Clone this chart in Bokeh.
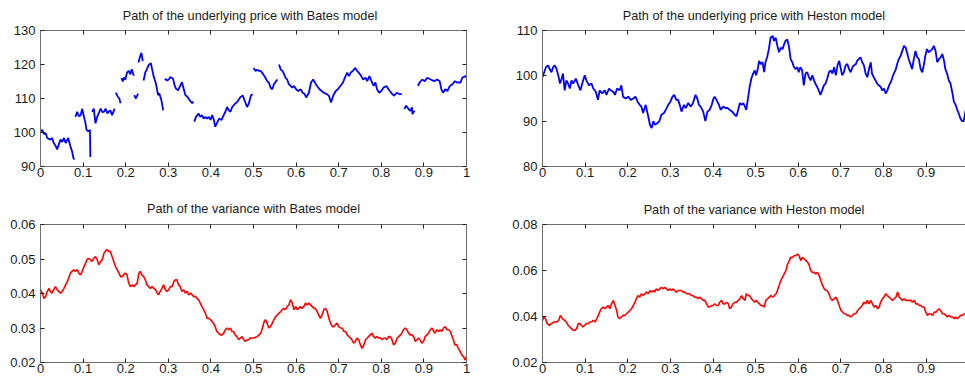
from bokeh.plotting import figure
from bokeh.models import Range1d, LinearAxis, FixedTicker
from bokeh.layouts import column, row
from bokeh.embed import file_html
from bokeh.resources import INLINE

NAN = float("nan")

# ---------------- tick labels ----------------
x_ticks = [0, 0.1, 0.2, 0.3, 0.4, 0.5, 0.6, 0.7, 0.8, 0.9, 1.0]
x_tick_labels = ["0", "0.1", "0.2", "0.3", "0.4", "0.5", "0.6", "0.7", "0.8", "0.9", "1"]
bates_price_ticks = [90, 100, 110, 120, 130]
bates_price_labels = ["90", "100", "110", "120", "130"]
heston_price_ticks = [80, 90, 100, 110]
heston_price_labels = ["80", "90", "100", "110"]
bates_var_ticks = [0.02, 0.03, 0.04, 0.05, 0.06]
bates_var_labels = ["0.02", "0.03", "0.04", "0.05", "0.06"]
heston_var_ticks = [0.02, 0.04, 0.06, 0.08]
heston_var_labels = ["0.02", "0.04", "0.06", "0.08"]

titles = [
    "Path of the underlying price   with Bates model",
    "Path of the underlying price with Heston model",
    "Path of the variance with Bates model",
    "Path of the variance with Heston model",
]

# ---------------- Bates price (pieces between jumps) ----------------
bates_price_t = [
    [0.000, 0.004, 0.008, 0.012, 0.016, 0.023, 0.027, 0.031, 0.035, 0.039, 0.043, 0.047, 0.051, 0.055, 0.059, 0.065, 0.070, 0.074, 0.077, 0.079],
    [0.082, 0.086, 0.090, 0.094, 0.098, 0.102, 0.105, 0.108, 0.112, 0.116, 0.117],
    [0.121, 0.125, 0.129, 0.133, 0.137, 0.141, 0.145, 0.149, 0.153, 0.157, 0.160, 0.164, 0.168, 0.174],
    [0.177, 0.181, 0.185, 0.188],
    [0.190, 0.193, 0.196, 0.199, 0.203, 0.207, 0.211, 0.214, 0.219],
    [0.220, 0.224, 0.229],
    [0.230, 0.234, 0.237, 0.240],
    [0.242, 0.246, 0.250, 0.254, 0.259, 0.262, 0.266, 0.271, 0.276, 0.279, 0.284, 0.288],
    [0.292, 0.297, 0.301, 0.305, 0.311, 0.315, 0.318, 0.323, 0.328, 0.332, 0.337, 0.340, 0.345, 0.350, 0.356, 0.359],
    [0.361, 0.365, 0.371, 0.375, 0.379, 0.383, 0.387, 0.391, 0.395, 0.399, 0.403, 0.407, 0.410, 0.414, 0.419, 0.425,
     0.430, 0.434, 0.438, 0.442, 0.446, 0.450, 0.457, 0.461, 0.465, 0.469, 0.475, 0.479, 0.485, 0.489, 0.494, 0.498],
    [0.500, 0.505, 0.509, 0.513, 0.517, 0.523, 0.528, 0.532, 0.536, 0.540, 0.544, 0.548, 0.553, 0.556],
    [0.560, 0.564, 0.568, 0.572, 0.575, 0.579, 0.583, 0.587, 0.591, 0.595, 0.600, 0.605, 0.611, 0.615, 0.620, 0.624,
     0.630, 0.635, 0.640, 0.644, 0.649, 0.655, 0.660, 0.665, 0.672, 0.677, 0.682, 0.687, 0.693, 0.698, 0.704, 0.710,
     0.716, 0.720, 0.724, 0.728, 0.733, 0.739, 0.743, 0.747, 0.753, 0.757, 0.763, 0.767, 0.772, 0.777, 0.782, 0.786,
     0.790, 0.795, 0.800, 0.805, 0.812, 0.817, 0.820, 0.826, 0.830, 0.836, 0.842, 0.848],
    [0.854, 0.858, 0.864, 0.868, 0.872, 0.873, 0.878],
    [0.886, 0.890, 0.896, 0.902, 0.908, 0.916, 0.924, 0.931, 0.937, 0.941, 0.945, 0.950, 0.955, 0.961, 0.967, 0.973,
     0.978, 0.986, 0.990, 0.997, 1.000],
]
bates_price_v = [
    [100.3, 100.8, 99.6, 99.8, 98.4, 97.9, 98.4, 96.9, 96.2, 95.0, 96.5, 97.9, 97.2, 98.4, 96.9, 98.4, 96.0, 94.5, 92.6, 92.0],
    [104.6, 106.1, 104.8, 105.0, 107.0, 104.6, 103.2, 100.8, 100.3, 100.8, 92.8],
    [106.1, 107.0, 102.7, 104.6, 105.8, 107.0, 106.0, 106.1, 107.0, 105.6, 106.1, 106.5, 105.1, 107.0],
    [111.7, 110.6, 110.0, 108.6],
    [116.0, 115.0, 116.2, 115.5, 117.6, 118.1, 117.1, 118.6, 116.7],
    [111.0, 110.0, 111.4],
    [120.6, 122.5, 123.4, 121.0],
    [115.3, 117.7, 118.7, 119.9, 120.4, 118.6, 116.3, 114.4, 111.0, 111.5, 109.4, 106.5],
    [115.8, 115.3, 115.6, 116.3, 115.8, 113.8, 112.9, 112.4, 113.8, 114.8, 112.4, 111.0, 110.5, 109.5, 108.6, 109.1],
    [103.2, 104.6, 105.6, 104.6, 105.1, 104.1, 104.6, 104.1, 104.6, 103.7, 105.1, 103.7, 101.7, 102.7, 104.1, 103.7,
     105.1, 106.1, 107.5, 106.5, 106.1, 107.5, 108.5, 108.9, 109.6, 110.4, 110.9, 109.4, 107.5, 108.5, 110.9, 111.3],
    [119.0, 118.1, 118.5, 118.1, 118.1, 117.1, 116.1, 115.1, 114.7, 113.2, 112.7, 114.2, 115.1, 115.6],
    [120.0, 118.5, 118.1, 117.1, 116.1, 115.6, 114.2, 113.7, 113.2, 113.7, 112.7, 112.2, 112.7, 111.7, 111.3, 110.3,
     111.7, 114.7, 115.6, 114.7, 113.7, 112.7, 112.2, 111.7, 111.3, 110.8, 108.8, 110.8, 112.2, 112.7, 113.7, 114.7,
     116.6, 117.6, 116.6, 117.6, 118.1, 119.0, 118.1, 117.6, 116.6, 115.6, 116.1, 115.1, 116.6, 115.1, 113.7, 114.7,
     112.7, 111.7, 112.2, 113.2, 113.7, 112.7, 112.2, 111.3, 110.8, 111.7, 111.3, 111.3],
    [106.9, 107.9, 106.9, 106.4, 107.4, 105.4, 106.4],
    [113.7, 114.7, 115.6, 115.1, 116.1, 115.6, 115.1, 115.6, 115.1, 112.7, 111.7, 112.7, 112.2, 113.7, 114.2, 115.1,
     114.7, 114.7, 116.1, 116.6, 116.1],
]

# ---------------- Heston price ----------------
heston_price_t = [
    0.000, 0.003, 0.008, 0.013, 0.017, 0.021, 0.025, 0.029, 0.033, 0.037, 0.041, 0.045, 0.048, 0.052, 0.056, 0.060,
    0.064, 0.068, 0.072, 0.078, 0.084, 0.089, 0.094, 0.099, 0.103, 0.109, 0.115, 0.119, 0.125, 0.130, 0.134, 0.140,
    0.146, 0.150, 0.156, 0.160, 0.166, 0.170, 0.175, 0.181, 0.185, 0.189, 0.195, 0.201, 0.207, 0.213, 0.218, 0.223,
    0.228, 0.232, 0.236, 0.242, 0.248, 0.252, 0.256, 0.260, 0.264, 0.270, 0.274, 0.279, 0.285, 0.289, 0.295, 0.300,
    0.305, 0.309, 0.314, 0.318, 0.322, 0.326, 0.332, 0.336, 0.342, 0.348, 0.353, 0.359, 0.363, 0.367, 0.371, 0.377,
    0.382, 0.387, 0.392, 0.397, 0.401, 0.404, 0.408, 0.414, 0.418, 0.424, 0.429, 0.434, 0.439, 0.445, 0.451, 0.455,
    0.459, 0.463, 0.467, 0.471, 0.475, 0.478, 0.482, 0.486, 0.490, 0.494, 0.498,
    0.501, 0.505, 0.508, 0.512, 0.516, 0.520, 0.523, 0.527, 0.531, 0.535, 0.540, 0.543, 0.547, 0.551, 0.555, 0.559,
    0.563, 0.567, 0.570, 0.574, 0.578, 0.582, 0.586, 0.590, 0.594, 0.598, 0.601, 0.605, 0.609, 0.613, 0.617, 0.621,
    0.625, 0.629, 0.633, 0.637, 0.640, 0.644, 0.648, 0.652, 0.656, 0.660, 0.664, 0.668, 0.672, 0.676, 0.680, 0.684,
    0.688, 0.692, 0.696, 0.699, 0.703, 0.707, 0.711, 0.715, 0.719, 0.723, 0.727, 0.731, 0.735, 0.738, 0.742, 0.746,
    0.750, 0.754, 0.758, 0.762, 0.766, 0.770, 0.773, 0.777, 0.781, 0.785, 0.789, 0.793, 0.797, 0.801, 0.805, 0.809,
    0.813, 0.817, 0.820, 0.824, 0.828, 0.832, 0.836, 0.840, 0.844, 0.848, 0.852, 0.856, 0.859, 0.863, 0.867, 0.871,
    0.875, 0.879, 0.883, 0.887, 0.891, 0.895, 0.898, 0.902, 0.906, 0.910, 0.914, 0.918, 0.922, 0.926, 0.930, 0.934,
    0.938, 0.942, 0.945, 0.949, 0.953, 0.957, 0.961, 0.965, 0.969, 0.973, 0.976, 0.980, 0.984, 0.988, 0.992, 0.996,
]
heston_price_v = [
    99.7, 100.5, 101.9, 102.3, 101.5, 100.8, 101.9, 102.3, 101.5, 100.1, 98.3, 99.4, 100.5, 96.8, 99.0, 98.3,
    97.2, 99.0, 98.3, 99.4, 97.9, 96.8, 98.6, 100.1, 99.0, 97.9, 98.3, 97.2, 96.5, 94.7, 96.8, 96.1,
    96.8, 95.8, 97.2, 96.8, 96.5, 95.8, 97.2, 96.8, 97.9, 95.4, 95.0, 95.4, 94.7, 95.0, 95.4, 94.3,
    93.6, 93.2, 91.8, 93.6, 91.1, 89.2, 88.5, 90.0, 89.2, 89.6, 90.0, 91.4, 91.8, 92.5, 93.6, 94.3,
    95.4, 95.8, 94.7, 94.7, 93.6, 92.1, 93.6, 92.9, 94.0, 93.2, 94.0, 95.8, 95.0, 93.6, 93.2, 92.1,
    90.0, 92.1, 92.5, 93.6, 95.0, 95.4, 94.7, 93.6, 92.5, 93.2, 92.9, 92.9, 92.5, 92.1, 91.4, 91.1,
    92.5, 94.0, 93.6, 94.0, 93.2, 92.5, 95.0, 97.6, 99.4, 100.5, 101.2,
    100.1, 101.5, 103.3, 102.6, 103.0, 100.8, 103.0, 104.1, 105.9, 108.4, 108.8, 107.7, 108.4, 106.6, 105.2, 106.2,
    105.9, 107.0, 107.7, 108.0, 106.6, 103.7, 103.0, 101.9, 101.5, 101.9, 100.8, 101.9, 101.2, 97.9, 100.5, 100.8,
    99.7, 99.0, 100.1, 99.0, 98.3, 97.6, 96.8, 95.8, 96.8, 97.9, 98.3, 99.4, 100.8, 101.2, 100.5, 101.9,
    100.1, 102.3, 103.3, 101.9, 100.1, 100.8, 102.3, 102.6, 101.5, 100.8, 101.9, 102.3, 102.6, 103.3, 103.7, 104.1,
    103.0, 102.3, 100.5, 99.7, 101.5, 103.0, 100.5, 99.7, 99.0, 98.3, 97.9, 97.6, 96.8, 97.2, 96.1, 96.8,
    97.9, 98.6, 99.4, 100.5, 101.2, 102.6, 103.7, 104.4, 105.5, 106.6, 106.2, 104.8, 103.7, 102.6, 101.5, 103.7,
    105.5, 104.1, 103.7, 101.5, 100.8, 102.6, 104.4, 105.9, 105.2, 105.5, 105.9, 106.6, 105.5, 103.0, 103.7, 104.1,
    104.8, 103.3, 101.5, 100.5, 99.0, 98.3, 96.5, 94.3, 93.6, 92.5, 91.8, 90.7, 90.0, 90.0, 92.1, 93.2,
]

# ---------------- Bates variance ----------------
bates_var_t = [
    0.000, 0.004, 0.008, 0.012, 0.016, 0.020, 0.023, 0.027, 0.031, 0.035, 0.039, 0.043, 0.047, 0.051, 0.055, 0.059,
    0.063, 0.066, 0.070, 0.074, 0.078, 0.082, 0.086, 0.090, 0.094, 0.098, 0.102, 0.106, 0.109, 0.113, 0.117, 0.121,
    0.125, 0.129, 0.133, 0.137, 0.141, 0.145, 0.149, 0.152, 0.156, 0.160, 0.164, 0.168, 0.172, 0.176, 0.180, 0.184,
    0.188, 0.192, 0.195, 0.199, 0.203, 0.207, 0.211, 0.215, 0.219, 0.223, 0.227, 0.231, 0.234, 0.238, 0.242, 0.246,
    0.250, 0.254, 0.258, 0.262, 0.266, 0.270, 0.274, 0.277, 0.281, 0.285, 0.289, 0.293, 0.297, 0.301, 0.305, 0.309,
    0.313, 0.317, 0.320, 0.324, 0.328, 0.332, 0.336, 0.340, 0.344, 0.348, 0.352, 0.356, 0.360, 0.364, 0.367, 0.371,
    0.375, 0.379, 0.383, 0.387, 0.391, 0.395, 0.399, 0.403, 0.406, 0.410, 0.414, 0.418, 0.422, 0.426, 0.430, 0.434,
    0.438, 0.442, 0.446, 0.449, 0.453, 0.457, 0.461, 0.465, 0.469, 0.473, 0.477, 0.481, 0.485, 0.489, 0.492, 0.496,
    0.501, 0.505, 0.509, 0.513, 0.517, 0.521, 0.525, 0.528, 0.532, 0.536, 0.540, 0.544, 0.548, 0.552, 0.556, 0.560,
    0.564, 0.567, 0.571, 0.575, 0.579, 0.583, 0.587, 0.591, 0.595, 0.599, 0.603, 0.606, 0.610, 0.614, 0.618, 0.622,
    0.626, 0.630, 0.634, 0.638, 0.642, 0.645, 0.649, 0.653, 0.657, 0.661, 0.665, 0.669, 0.673, 0.677, 0.681, 0.685,
    0.689, 0.692, 0.696, 0.700, 0.704, 0.708, 0.712, 0.716, 0.720, 0.724, 0.728, 0.731, 0.735, 0.739, 0.743, 0.747,
    0.751, 0.755, 0.759, 0.763, 0.767, 0.770, 0.774, 0.778, 0.782, 0.786, 0.790, 0.794, 0.798, 0.802, 0.806, 0.809,
    0.813, 0.817, 0.821, 0.825, 0.829, 0.833, 0.837, 0.841, 0.845, 0.848, 0.852, 0.856, 0.860, 0.864, 0.868, 0.872,
    0.876, 0.880, 0.884, 0.887, 0.891, 0.895, 0.899, 0.903, 0.907, 0.911, 0.915, 0.919, 0.923, 0.926, 0.930, 0.934,
    0.938, 0.942, 0.946, 0.950, 0.954, 0.958, 0.962, 0.965, 0.969, 0.973, 0.977, 0.981, 0.985, 0.989, 0.993, 0.997,
    1.000,
]
bates_var_v = [
    0.0411, 0.0401, 0.0386, 0.0391, 0.0406, 0.0415, 0.0406, 0.0401, 0.0411, 0.0420, 0.0411, 0.0406, 0.0401, 0.0406, 0.0415, 0.0425,
    0.0435, 0.0444, 0.0459, 0.0464, 0.0469, 0.0464, 0.0469, 0.0459, 0.0454, 0.0464, 0.0478, 0.0488, 0.0498, 0.0502, 0.0498, 0.0493,
    0.0502, 0.0507, 0.0498, 0.0483, 0.0493, 0.0498, 0.0517, 0.0522, 0.0527, 0.0522, 0.0522, 0.0507, 0.0493, 0.0478, 0.0469, 0.0459,
    0.0449, 0.0449, 0.0454, 0.0459, 0.0454, 0.0430, 0.0420, 0.0425, 0.0420, 0.0425, 0.0430, 0.0459, 0.0464, 0.0454, 0.0449, 0.0440,
    0.0425, 0.0420, 0.0415, 0.0420, 0.0415, 0.0411, 0.0401, 0.0396, 0.0406, 0.0415, 0.0425, 0.0411, 0.0406, 0.0411, 0.0420, 0.0420,
    0.0435, 0.0440, 0.0440, 0.0425, 0.0420, 0.0406, 0.0411, 0.0401, 0.0406, 0.0396, 0.0401, 0.0396, 0.0391, 0.0391, 0.0386, 0.0382,
    0.0372, 0.0362, 0.0353, 0.0343, 0.0328, 0.0328, 0.0324, 0.0319, 0.0314, 0.0304, 0.0290, 0.0285, 0.0280, 0.0280, 0.0285, 0.0295,
    0.0300, 0.0295, 0.0300, 0.0290, 0.0290, 0.0280, 0.0275, 0.0266, 0.0271, 0.0275, 0.0266, 0.0261, 0.0266, 0.0266, 0.0271, 0.0271,
    0.0271, 0.0273, 0.0275, 0.0280, 0.0285, 0.0300, 0.0319, 0.0324, 0.0314, 0.0300, 0.0304, 0.0314, 0.0324, 0.0333, 0.0338, 0.0343,
    0.0348, 0.0353, 0.0357, 0.0353, 0.0362, 0.0367, 0.0382, 0.0372, 0.0353, 0.0362, 0.0353, 0.0357, 0.0362, 0.0357, 0.0362, 0.0372,
    0.0367, 0.0372, 0.0367, 0.0362, 0.0357, 0.0357, 0.0348, 0.0338, 0.0328, 0.0338, 0.0353, 0.0357, 0.0348, 0.0328, 0.0314, 0.0304,
    0.0304, 0.0309, 0.0314, 0.0304, 0.0300, 0.0300, 0.0290, 0.0290, 0.0280, 0.0275, 0.0271, 0.0266, 0.0256, 0.0261, 0.0271, 0.0266,
    0.0251, 0.0241, 0.0251, 0.0266, 0.0271, 0.0275, 0.0280, 0.0285, 0.0275, 0.0271, 0.0275, 0.0271, 0.0271, 0.0266, 0.0271, 0.0271,
    0.0266, 0.0275, 0.0275, 0.0266, 0.0251, 0.0256, 0.0271, 0.0275, 0.0280, 0.0285, 0.0295, 0.0300, 0.0295, 0.0285, 0.0280, 0.0280,
    0.0275, 0.0261, 0.0266, 0.0271, 0.0266, 0.0256, 0.0261, 0.0275, 0.0280, 0.0285, 0.0295, 0.0300, 0.0290, 0.0285, 0.0295, 0.0290,
    0.0295, 0.0290, 0.0300, 0.0304, 0.0295, 0.0295, 0.0290, 0.0280, 0.0266, 0.0251, 0.0251, 0.0241, 0.0232, 0.0222, 0.0217, 0.0207,
    0.0217,
]

# ---------------- Heston variance ----------------
heston_var_t = [
    0.000, 0.003, 0.007, 0.011, 0.016, 0.021, 0.027, 0.033, 0.038, 0.042, 0.047, 0.052, 0.056, 0.060, 0.064, 0.068,
    0.072, 0.076, 0.080, 0.084, 0.088, 0.091, 0.095, 0.099, 0.103, 0.107, 0.111, 0.115, 0.119, 0.123, 0.127, 0.131,
    0.134, 0.138, 0.142, 0.146, 0.150, 0.154, 0.158, 0.162, 0.166, 0.170, 0.174, 0.177, 0.181, 0.185, 0.189, 0.193,
    0.197, 0.201, 0.205, 0.209, 0.213, 0.217, 0.220, 0.224, 0.228, 0.232, 0.236, 0.240, 0.244, 0.248, 0.252, 0.256,
    0.260, 0.263, 0.267, 0.271, 0.275, 0.279, 0.283, 0.287, 0.291, 0.295, 0.299, 0.303, 0.306, 0.310, 0.314, 0.318,
    0.322, 0.326, 0.330, 0.334, 0.338, 0.341, 0.345, 0.349, 0.353, 0.357, 0.361, 0.365, 0.369, 0.373, 0.377, 0.381,
    0.385, 0.389, 0.392, 0.396, 0.400, 0.404, 0.408, 0.412, 0.416, 0.420, 0.424, 0.428, 0.432, 0.436, 0.439, 0.443,
    0.447, 0.451, 0.455, 0.459, 0.463, 0.467, 0.471, 0.475, 0.478, 0.482, 0.486, 0.490, 0.494, 0.498,
    0.501, 0.505, 0.509, 0.512, 0.516, 0.520, 0.524, 0.528, 0.532, 0.536, 0.540, 0.544, 0.548, 0.551, 0.555, 0.559,
    0.563, 0.567, 0.571, 0.575, 0.579, 0.582, 0.586, 0.590, 0.594, 0.598, 0.602, 0.606, 0.610, 0.614, 0.618, 0.622,
    0.626, 0.629, 0.633, 0.637, 0.641, 0.645, 0.649, 0.653, 0.657, 0.661, 0.665, 0.668, 0.672, 0.676, 0.680, 0.684,
    0.688, 0.692, 0.696, 0.700, 0.704, 0.708, 0.711, 0.715, 0.719, 0.723, 0.727, 0.731, 0.735, 0.739, 0.743, 0.747,
    0.750, 0.754, 0.758, 0.762, 0.766, 0.770, 0.774, 0.778, 0.782, 0.786, 0.790, 0.793, 0.797, 0.801, 0.805, 0.809,
    0.813, 0.817, 0.821, 0.825, 0.829, 0.833, 0.837, 0.841, 0.844, 0.848, 0.852, 0.856, 0.860, 0.864, 0.868, 0.872,
    0.876, 0.880, 0.884, 0.888, 0.891, 0.895, 0.899, 0.903, 0.907, 0.911, 0.915, 0.919, 0.923, 0.926, 0.930, 0.934,
    0.938, 0.942, 0.946, 0.950, 0.954, 0.958, 0.962, 0.966, 0.969, 0.973, 0.977, 0.981, 0.985, 0.989, 0.993,
]
heston_var_v = [
    0.0383, 0.0398, 0.0390, 0.0369, 0.0362, 0.0369, 0.0376, 0.0376, 0.0383, 0.0405, 0.0390, 0.0383, 0.0376, 0.0362, 0.0354, 0.0347,
    0.0340, 0.0340, 0.0347, 0.0369, 0.0369, 0.0362, 0.0354, 0.0362, 0.0369, 0.0369, 0.0376, 0.0376, 0.0383, 0.0376, 0.0390, 0.0405,
    0.0419, 0.0434, 0.0441, 0.0434, 0.0441, 0.0448, 0.0434, 0.0455, 0.0470, 0.0448, 0.0426, 0.0398, 0.0390, 0.0398, 0.0405, 0.0405,
    0.0412, 0.0419, 0.0426, 0.0434, 0.0448, 0.0462, 0.0477, 0.0491, 0.0484, 0.0499, 0.0491, 0.0499, 0.0506, 0.0499, 0.0513, 0.0506,
    0.0513, 0.0506, 0.0520, 0.0513, 0.0520, 0.0527, 0.0520, 0.0527, 0.0520, 0.0513, 0.0520, 0.0513, 0.0520, 0.0513, 0.0506, 0.0513,
    0.0513, 0.0513, 0.0506, 0.0506, 0.0499, 0.0499, 0.0499, 0.0491, 0.0491, 0.0484, 0.0484, 0.0477, 0.0484, 0.0477, 0.0470, 0.0470,
    0.0455, 0.0441, 0.0441, 0.0448, 0.0448, 0.0455, 0.0448, 0.0448, 0.0462, 0.0470, 0.0455, 0.0455, 0.0462, 0.0455, 0.0434, 0.0441,
    0.0455, 0.0462, 0.0462, 0.0470, 0.0477, 0.0491, 0.0477, 0.0470, 0.0499, 0.0491, 0.0491, 0.0477, 0.0470, 0.0462,
    0.0470, 0.0462, 0.0455, 0.0448, 0.0448, 0.0441, 0.0470, 0.0477, 0.0484, 0.0491, 0.0484, 0.0491, 0.0499, 0.0513, 0.0535, 0.0556,
    0.0571, 0.0585, 0.0600, 0.0628, 0.0643, 0.0657, 0.0657, 0.0664, 0.0664, 0.0671, 0.0664, 0.0643, 0.0657, 0.0650, 0.0643, 0.0636,
    0.0621, 0.0600, 0.0592, 0.0592, 0.0585, 0.0592, 0.0578, 0.0556, 0.0535, 0.0520, 0.0513, 0.0513, 0.0499, 0.0477, 0.0470, 0.0477,
    0.0484, 0.0470, 0.0448, 0.0426, 0.0419, 0.0412, 0.0412, 0.0405, 0.0405, 0.0398, 0.0405, 0.0412, 0.0412, 0.0426, 0.0434, 0.0441,
    0.0448, 0.0462, 0.0455, 0.0470, 0.0455, 0.0470, 0.0455, 0.0441, 0.0448, 0.0434, 0.0441, 0.0462, 0.0477, 0.0484, 0.0499, 0.0491,
    0.0484, 0.0477, 0.0470, 0.0477, 0.0484, 0.0506, 0.0484, 0.0477, 0.0470, 0.0477, 0.0470, 0.0470, 0.0470, 0.0470, 0.0462, 0.0470,
    0.0455, 0.0455, 0.0448, 0.0448, 0.0441, 0.0441, 0.0419, 0.0405, 0.0412, 0.0412, 0.0405, 0.0419, 0.0419, 0.0426, 0.0434, 0.0426,
    0.0412, 0.0412, 0.0405, 0.0398, 0.0405, 0.0398, 0.0398, 0.0390, 0.0398, 0.0390, 0.0398, 0.0405, 0.0405, 0.0412, 0.0412,
]

# ---------------- styling ----------------
FONT = "Liberation Sans"
TEXT = "#1a1a1a"
FRAME = "#6e6e6e"
TICK = "#202020"


def join_pieces(ts, vs):
    xs, ys = [], []
    for i, (t, v) in enumerate(zip(ts, vs)):
        if i:
            xs.append(NAN)
            ys.append(NAN)
        xs += t
        ys += v
    return xs, ys


def style_axis(ax, ticks, labels, show_labels, standoff):
    ax.ticker = FixedTicker(ticks=ticks)
    ax.major_tick_in = 4
    ax.major_tick_out = 0
    ax.minor_tick_line_color = None
    ax.axis_line_color = FRAME
    ax.axis_line_width = 1
    ax.major_tick_line_color = TICK
    ax.major_tick_line_width = 1
    ax.major_label_text_font = FONT
    ax.major_label_standoff = standoff
    if show_labels:
        ax.major_label_overrides = {t: l for t, l in zip(ticks, labels)}
        ax.major_label_text_font_size = "13px"
        ax.major_label_text_color = TEXT
    else:
        # mirrored frame ticks only: labels are not drawn at all
        ax.major_label_text_color = None
        ax.major_label_text_font_size = "1px"


def make_panel(title, width, height, x_end, y_start, y_end, y_ticks, y_labels,
               b_left, b_right, b_top, b_bottom, with_right_axis, title_standoff):
    p = figure(width=width, height=height,
               x_range=Range1d(0, x_end), y_range=Range1d(y_start, y_end),
               output_backend="svg", toolbar_location=None,
               min_border_left=b_left, min_border_right=b_right,
               min_border_top=b_top, min_border_bottom=b_bottom)
    p.outline_line_color = None
    p.xgrid.visible = False
    p.ygrid.visible = False
    p.background_fill_color = "white"
    p.border_fill_color = "white"

    style_axis(p.xaxis[0], x_ticks, x_tick_labels, True, 1)
    style_axis(p.yaxis[0], y_ticks, y_labels, True, 5)

    top = LinearAxis()
    style_axis(top, x_ticks, x_tick_labels, False, 0)
    p.add_layout(top, "above")
    if with_right_axis:
        right = LinearAxis()
        style_axis(right, y_ticks, y_labels, False, 0)
        p.add_layout(right, "right")

    p.title.text = title
    p.title.align = "center"
    p.title.vertical_align = "middle"
    p.title.text_font = FONT
    p.title.text_font_size = "12.7px"
    p.title.text_font_style = "normal"
    p.title.text_color = TEXT
    p.title.standoff = title_standoff
    return p


RIGHT_X_END = 0.9923

p1 = make_panel(titles[0], 480, 190, 1.0, 90, 130, bates_price_ticks, bates_price_labels,
                40, 14, 27, 24, True, 13)
bx, by = join_pieces(bates_price_t, bates_price_v)
p1.line(bx, by, line_color="#0000ff", line_width=1.8)

p2 = make_panel(titles[1], 485, 190, RIGHT_X_END, 80, 110, heston_price_ticks, heston_price_labels,
                62, 0, 28, 23, False, 14)
p2.line(heston_price_t, heston_price_v, line_color="#0000ff", line_width=1.8)

p3 = make_panel(titles[2], 480, 191, 1.0, 0.02, 0.06, bates_var_ticks, bates_var_labels,
                40, 14, 34, 19, True, 15)
p3.line(bates_var_t, bates_var_v, line_color="#ff0000", line_width=1.6)

p4 = make_panel(titles[3], 485, 191, RIGHT_X_END, 0.02, 0.08, heston_var_ticks, heston_var_labels,
                62, 0, 34, 18, False, 13)
p4.line(heston_var_t, heston_var_v, line_color="#ff0000", line_width=1.6)

layout = column(row(p1, p2), row(p3, p4))

with open("out.html", "w") as f:
    f.write(file_html(layout, INLINE))
